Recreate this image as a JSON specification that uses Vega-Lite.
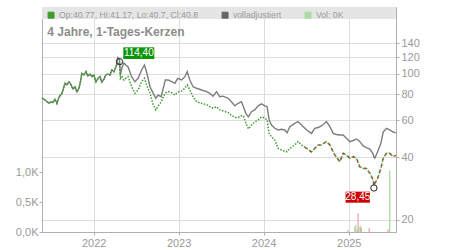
{
  "$schema": "https://vega.github.io/schema/vega-lite/v6.json",
  "width": 354,
  "height": 225,
  "autosize": {"type": "none"},
  "padding": {"left": 42, "top": 7, "right": 54, "bottom": 18},
  "background": "white",
  "config": {
    "font": "Liberation Sans",
    "view": {"stroke": "#cccccc"},
    "axis": {"labelColor": "#9a9a9a", "labelFontSize": 11, "labelFont": "Liberation Sans", "gridColor": "#dddddd", "domainColor": "#b0b0b0", "tickColor": "#b0b0b0", "title": null}
  },
  "title": {"text": "4 Jahre, 1-Tages-Kerzen", "anchor": "start", "frame": "group", "orient": "top", "offset": -40.5, "dx": 5.3, "baseline": "alphabetic", "fontSize": 12, "fontWeight": "bold", "color": "#8c8c8c", "font": "Liberation Sans"},
  "datasets": {
    "px": [
      {"date": "2021-05-24", "close": 76.7, "adj": 76.7},
      {"date": "2021-06-06", "close": 75.0, "adj": 75.0},
      {"date": "2021-06-15", "close": 73.6, "adj": 73.6},
      {"date": "2021-06-23", "close": 72.3, "adj": 72.3},
      {"date": "2021-07-02", "close": 73.6, "adj": 73.6},
      {"date": "2021-07-10", "close": 72.8, "adj": 72.8},
      {"date": "2021-07-19", "close": 75.6, "adj": 75.6},
      {"date": "2021-07-27", "close": 72.2, "adj": 72.2},
      {"date": "2021-08-05", "close": 77.5, "adj": 77.5},
      {"date": "2021-08-18", "close": 80.7, "adj": 80.7},
      {"date": "2021-08-31", "close": 90.4, "adj": 90.4},
      {"date": "2021-09-08", "close": 88.5, "adj": 88.5},
      {"date": "2021-09-17", "close": 91.7, "adj": 91.7},
      {"date": "2021-09-26", "close": 88.5, "adj": 88.5},
      {"date": "2021-10-04", "close": 84.6, "adj": 84.6},
      {"date": "2021-10-13", "close": 86.8, "adj": 86.8},
      {"date": "2021-10-21", "close": 81.9, "adj": 81.9},
      {"date": "2021-10-30", "close": 85.6, "adj": 85.6},
      {"date": "2021-11-05", "close": 91.4, "adj": 91.4},
      {"date": "2021-11-11", "close": 100.4, "adj": 100.4},
      {"date": "2021-11-20", "close": 98.8, "adj": 98.8},
      {"date": "2021-11-29", "close": 102.4, "adj": 102.4},
      {"date": "2021-12-07", "close": 97.7, "adj": 97.7},
      {"date": "2021-12-16", "close": 99.9, "adj": 99.9},
      {"date": "2021-12-25", "close": 96.9, "adj": 96.9},
      {"date": "2022-01-02", "close": 98.8, "adj": 98.8},
      {"date": "2022-01-11", "close": 91.7, "adj": 91.7},
      {"date": "2022-01-20", "close": 95.2, "adj": 95.2},
      {"date": "2022-01-28", "close": 96.9, "adj": 96.9},
      {"date": "2022-02-05", "close": 91.4, "adj": 91.4},
      {"date": "2022-02-14", "close": 94.2, "adj": 94.2},
      {"date": "2022-02-22", "close": 98.8, "adj": 98.8},
      {"date": "2022-03-03", "close": 99.9, "adj": 99.9},
      {"date": "2022-03-12", "close": 98.8, "adj": 98.8},
      {"date": "2022-03-20", "close": 104.3, "adj": 104.3},
      {"date": "2022-03-29", "close": 102.4, "adj": 102.4},
      {"date": "2022-04-07", "close": 108.2, "adj": 108.2},
      {"date": "2022-04-15", "close": 112.0, "adj": 119.7},
      {"date": "2022-04-22", "close": 113.3, "adj": 117.0},
      {"date": "2022-04-26", "close": 95.2, "adj": 98.8},
      {"date": "2022-05-02", "close": 97.7, "adj": 106.6},
      {"date": "2022-05-11", "close": 93.5, "adj": 112.6},
      {"date": "2022-05-19", "close": 95.2, "adj": 110.2},
      {"date": "2022-05-29", "close": 96.9, "adj": 107.8},
      {"date": "2022-06-13", "close": 86.8, "adj": 96.9},
      {"date": "2022-06-27", "close": 80.7, "adj": 91.7},
      {"date": "2022-07-11", "close": 83.7, "adj": 95.2},
      {"date": "2022-07-26", "close": 91.7, "adj": 104.3},
      {"date": "2022-08-07", "close": 95.2, "adj": 110.2},
      {"date": "2022-08-18", "close": 87.5, "adj": 100.6},
      {"date": "2022-08-31", "close": 81.0, "adj": 86.8},
      {"date": "2022-09-14", "close": 71.0, "adj": 80.7},
      {"date": "2022-09-25", "close": 67.2, "adj": 76.4},
      {"date": "2022-10-05", "close": 70.2, "adj": 79.2},
      {"date": "2022-10-18", "close": 73.3, "adj": 77.7},
      {"date": "2022-10-27", "close": 77.5, "adj": 85.3},
      {"date": "2022-11-05", "close": 81.0, "adj": 93.5},
      {"date": "2022-11-17", "close": 82.2, "adj": 93.5},
      {"date": "2022-12-02", "close": 81.3, "adj": 91.7},
      {"date": "2022-12-16", "close": 79.2, "adj": 90.1},
      {"date": "2022-12-28", "close": 81.9, "adj": 95.2},
      {"date": "2023-01-14", "close": 82.8, "adj": 93.5},
      {"date": "2023-01-28", "close": 85.3, "adj": 96.9},
      {"date": "2023-02-07", "close": 88.5, "adj": 102.4},
      {"date": "2023-02-18", "close": 83.7, "adj": 93.5},
      {"date": "2023-03-04", "close": 77.7, "adj": 86.8},
      {"date": "2023-03-19", "close": 73.6, "adj": 85.3},
      {"date": "2023-04-10", "close": 72.2, "adj": 83.7},
      {"date": "2023-05-01", "close": 71.3, "adj": 82.2},
      {"date": "2023-05-15", "close": 69.6, "adj": 80.7},
      {"date": "2023-05-29", "close": 68.4, "adj": 78.2},
      {"date": "2023-06-13", "close": 69.6, "adj": 82.2},
      {"date": "2023-06-27", "close": 67.2, "adj": 77.7},
      {"date": "2023-07-11", "close": 66.5, "adj": 78.2},
      {"date": "2023-08-02", "close": 65.3, "adj": 76.4},
      {"date": "2023-08-16", "close": 63.3, "adj": 73.6},
      {"date": "2023-08-31", "close": 61.9, "adj": 70.3},
      {"date": "2023-09-14", "close": 61.9, "adj": 72.3},
      {"date": "2023-09-28", "close": 63.1, "adj": 73.6},
      {"date": "2023-10-06", "close": 63.0, "adj": 69.8},
      {"date": "2023-10-17", "close": 58.1, "adj": 64.7},
      {"date": "2023-10-28", "close": 54.5, "adj": 62.3},
      {"date": "2023-11-10", "close": 56.9, "adj": 65.9},
      {"date": "2023-11-24", "close": 58.9, "adj": 67.2},
      {"date": "2023-12-09", "close": 60.2, "adj": 70.3},
      {"date": "2023-12-23", "close": 62.2, "adj": 71.8},
      {"date": "2024-01-06", "close": 61.6, "adj": 70.3},
      {"date": "2024-01-16", "close": 60.2, "adj": 69.8},
      {"date": "2024-01-25", "close": 51.8, "adj": 60.2},
      {"date": "2024-02-04", "close": 50.0, "adj": 56.9},
      {"date": "2024-02-18", "close": 48.3, "adj": 54.9},
      {"date": "2024-03-04", "close": 44.0, "adj": 53.9},
      {"date": "2024-03-18", "close": 43.2, "adj": 54.3},
      {"date": "2024-04-01", "close": 42.6, "adj": 53.9},
      {"date": "2024-04-11", "close": 42.4, "adj": 52.3},
      {"date": "2024-04-23", "close": 44.0, "adj": 55.9},
      {"date": "2024-05-14", "close": 45.7, "adj": 58.0},
      {"date": "2024-05-28", "close": 47.4, "adj": 59.1},
      {"date": "2024-06-12", "close": 45.7, "adj": 56.9},
      {"date": "2024-07-04", "close": 44.0, "adj": 53.9},
      {"date": "2024-07-25", "close": 42.3, "adj": 51.9},
      {"date": "2024-08-08", "close": 44.0, "adj": 54.9},
      {"date": "2024-08-22", "close": 45.7, "adj": 55.4},
      {"date": "2024-09-06", "close": 45.7, "adj": 56.3},
      {"date": "2024-09-27", "close": 47.4, "adj": 59.1},
      {"date": "2024-10-12", "close": 45.7, "adj": 55.9},
      {"date": "2024-10-26", "close": 42.3, "adj": 51.9},
      {"date": "2024-11-09", "close": 39.9, "adj": 51.3},
      {"date": "2024-11-24", "close": 38.0, "adj": 51.0},
      {"date": "2024-12-08", "close": 41.7, "adj": 51.0},
      {"date": "2024-12-22", "close": 40.9, "adj": 49.2},
      {"date": "2025-01-06", "close": 39.5, "adj": 47.4},
      {"date": "2025-01-20", "close": 40.2, "adj": 48.0},
      {"date": "2025-02-03", "close": 39.5, "adj": 48.8},
      {"date": "2025-02-17", "close": 36.0, "adj": 47.5},
      {"date": "2025-03-04", "close": 35.3, "adj": 45.2},
      {"date": "2025-03-18", "close": 35.3, "adj": 44.4},
      {"date": "2025-04-02", "close": 33.4, "adj": 43.7},
      {"date": "2025-04-16", "close": 31.1, "adj": 41.3},
      {"date": "2025-04-19", "close": 29.2, "adj": 40.0},
      {"date": "2025-04-23", "close": 29.9, "adj": 39.5},
      {"date": "2025-05-05", "close": 31.6, "adj": 42.4},
      {"date": "2025-05-19", "close": 35.3, "adj": 46.5},
      {"date": "2025-05-29", "close": 39.5, "adj": 52.7},
      {"date": "2025-06-12", "close": 41.7, "adj": 54.9},
      {"date": "2025-06-26", "close": 41.7, "adj": 53.9},
      {"date": "2025-07-11", "close": 40.2, "adj": 52.7},
      {"date": "2025-07-22", "close": 40.8, "adj": 52.2}
    ],
    "vol": [
      {"date": "2024-12-29", "vol": 33, "series": "Vol ab"},
      {"date": "2025-01-27", "vol": 88, "series": "Vol: 0K"},
      {"date": "2025-01-31", "vol": 117, "series": "Vol: 0K"},
      {"date": "2025-02-06", "vol": 40, "series": "Vol ab"},
      {"date": "2025-02-10", "vol": 312, "series": "Vol ab"},
      {"date": "2025-02-14", "vol": 88, "series": "Vol: 0K"},
      {"date": "2025-02-20", "vol": 100, "series": "Vol: 0K"},
      {"date": "2025-02-24", "vol": 70, "series": "Vol ab"},
      {"date": "2025-03-30", "vol": 72, "series": "Vol ab"},
      {"date": "2025-06-19", "vol": 45, "series": "Vol ab"},
      {"date": "2025-06-26", "vol": 1020, "series": "Vol: 0K"}
    ],
    "hi": [{"date": "2022-04-22", "price": 114.4, "label": "114,40"}],
    "lo": [{"date": "2025-04-19", "price": 28.45, "label": "28,45"}]
  },
  "layer": [
    {
      "data": {"name": "vol"},
      "mark": {"type": "bar", "width": 1.3},
      "encoding": {
        "x": {"field": "date", "type": "temporal",
          "scale": {"type": "utc", "domain": [{"year": 2021, "month": 5, "date": 24, "utc": true}, {"year": 2025, "month": 7, "date": 23, "utc": true}], "nice": false, "padding": 0},
          "axis": {"values": [{"year": 2022, "month": 1, "date": 1, "utc": true}, {"year": 2023, "month": 1, "date": 1, "utc": true}, {"year": 2024, "month": 1, "date": 1, "utc": true}, {"year": 2025, "month": 1, "date": 1, "utc": true}], "format": "%Y", "tickSize": 3, "labelPadding": 2, "grid": true, "labelFlush": false, "labelOverlap": false}},
        "y": {"field": "vol", "type": "quantitative",
          "scale": {"domain": [0, 3750], "nice": false},
          "axis": {"orient": "left", "values": [0, 500, 1000], "labelExpr": "replace(format(datum.value/1000,'.1f'),'.',',')+'K'", "grid": false, "tickSize": 3, "labelPadding": 1}},
        "color": {"field": "series", "type": "nominal",
          "scale": {"domain": ["Op:40.77, Hi:41.17, Lo:40.7, Cl:40.8", "volladjustiert", "Vol: 0K", "Vol ab"], "range": ["#3d9e2e", "#666666", "#a9dca0", "#f3a5ae"]},
          "legend": {"orient": "none", "legendX": 4.7, "legendY": 3.5, "direction": "horizontal", "title": null,
            "values": ["Op:40.77, Hi:41.17, Lo:40.7, Cl:40.8", "volladjustiert", "Vol: 0K"],
            "symbolType": "square", "symbolSize": 36, "labelFontSize": 8.7, "labelColor": "#9a9a9a", "labelFont": "Liberation Sans",
            "labelOffset": 3.5, "columnPadding": 21, "padding": 0, "labelLimit": 300,
            "encode": {"symbols": {"update": {"fill": {"scale": "color", "field": "value"}, "stroke": {"value": "#333333"}, "strokeWidth": {"value": 1}, "strokeDash": {"value": []}, "opacity": {"value": 1}}}}}}
      }
    },
    {
      "layer": [
        {
          "data": {"values": [{}]},
          "mark": {"type": "rect", "color": "#e5e5e5"},
          "encoding": {
            "y": {"datum": 208.8, "type": "quantitative", "scale": {"type": "log", "domain": [17.52, 208.8], "nice": false}},
            "y2": {"datum": 183}
          }
        },
        {
          "data": {"name": "px"},
          "mark": {"type": "line", "strokeWidth": 1.4, "strokeOpacity": 0.85, "interpolate": "linear"},
          "encoding": {
            "x": {"field": "date", "type": "temporal"},
            "y": {"field": "adj", "type": "quantitative", "scale": {"type": "log", "domain": [17.52, 208.8], "nice": false},
              "axis": {"orient": "right", "values": [20, 40, 60, 80, 100, 120, 140], "format": "d", "grid": true, "tickSize": 3, "labelPadding": 2}},
            "color": {"datum": "volladjustiert"}
          }
        },
        {
          "data": {"name": "px"},
          "mark": {"type": "line", "strokeWidth": 1.5, "strokeDash": [1.5, 1.5]},
          "encoding": {
            "x": {"field": "date", "type": "temporal"},
            "y": {"field": "close", "type": "quantitative", "scale": {"type": "log", "domain": [17.52, 208.8], "nice": false}},
            "color": {"datum": "Op:40.77, Hi:41.17, Lo:40.7, Cl:40.8"}
          }
        },
        {
          "data": {"name": "px"},
          "transform": [{"filter": "time(datum.date) >= time('2024-06-01')"}],
          "mark": {"type": "line", "strokeWidth": 1.6, "color": "#c41e1e", "strokeDash": [1.5, 4.5], "strokeDashOffset": 1.5},
          "encoding": {
            "x": {"field": "date", "type": "temporal"},
            "y": {"field": "close", "type": "quantitative", "scale": {"type": "log", "domain": [17.52, 208.8], "nice": false}}
          }
        },
        {
          "data": {"name": "hi"},
          "mark": {"type": "point", "filled": false, "size": 40, "stroke": "#222222", "strokeWidth": 1, "opacity": 1},
          "encoding": {
            "x": {"field": "date", "type": "temporal"},
            "y": {"field": "price", "type": "quantitative", "scale": {"type": "log", "domain": [17.52, 208.8], "nice": false}}
          }
        },
        {
          "data": {"name": "lo"},
          "mark": {"type": "point", "filled": false, "size": 40, "stroke": "#222222", "strokeWidth": 1, "opacity": 1},
          "encoding": {
            "x": {"field": "date", "type": "temporal"},
            "y": {"field": "price", "type": "quantitative", "scale": {"type": "log", "domain": [17.52, 208.8], "nice": false}}
          }
        },
        {
          "data": {"name": "hi"},
          "mark": {"type": "rect", "color": "#0a960a", "xOffset": 3.8, "x2Offset": 34.8, "yOffset": -14.3, "y2Offset": -2.6},
          "encoding": {
            "x": {"field": "date", "type": "temporal"},
            "x2": {"field": "date"},
            "y": {"field": "price", "type": "quantitative", "scale": {"type": "log", "domain": [17.52, 208.8], "nice": false}},
            "y2": {"field": "price"}
          }
        },
        {
          "data": {"name": "lo"},
          "mark": {"type": "rect", "color": "#cc0000", "xOffset": -28.3, "x2Offset": -4, "yOffset": 3.7, "y2Offset": 14.7},
          "encoding": {
            "x": {"field": "date", "type": "temporal"},
            "x2": {"field": "date"},
            "y": {"field": "price", "type": "quantitative", "scale": {"type": "log", "domain": [17.52, 208.8], "nice": false}},
            "y2": {"field": "price"}
          }
        },
        {
          "data": {"name": "hi"},
          "mark": {"type": "text", "color": "white", "fontSize": 10, "font": "Liberation Sans", "align": "center", "baseline": "middle", "dx": 19.3, "dy": -8.4},
          "encoding": {
            "x": {"field": "date", "type": "temporal"},
            "y": {"field": "price", "type": "quantitative", "scale": {"type": "log", "domain": [17.52, 208.8], "nice": false}},
            "text": {"field": "label"}
          }
        },
        {
          "data": {"name": "lo"},
          "mark": {"type": "text", "color": "white", "fontSize": 10, "font": "Liberation Sans", "align": "center", "baseline": "middle", "dx": -16.1, "dy": 9.2},
          "encoding": {
            "x": {"field": "date", "type": "temporal"},
            "y": {"field": "price", "type": "quantitative", "scale": {"type": "log", "domain": [17.52, 208.8], "nice": false}},
            "text": {"field": "label"}
          }
        }
      ]
    }
  ],
  "resolve": {"scale": {"y": "independent"}}
}
